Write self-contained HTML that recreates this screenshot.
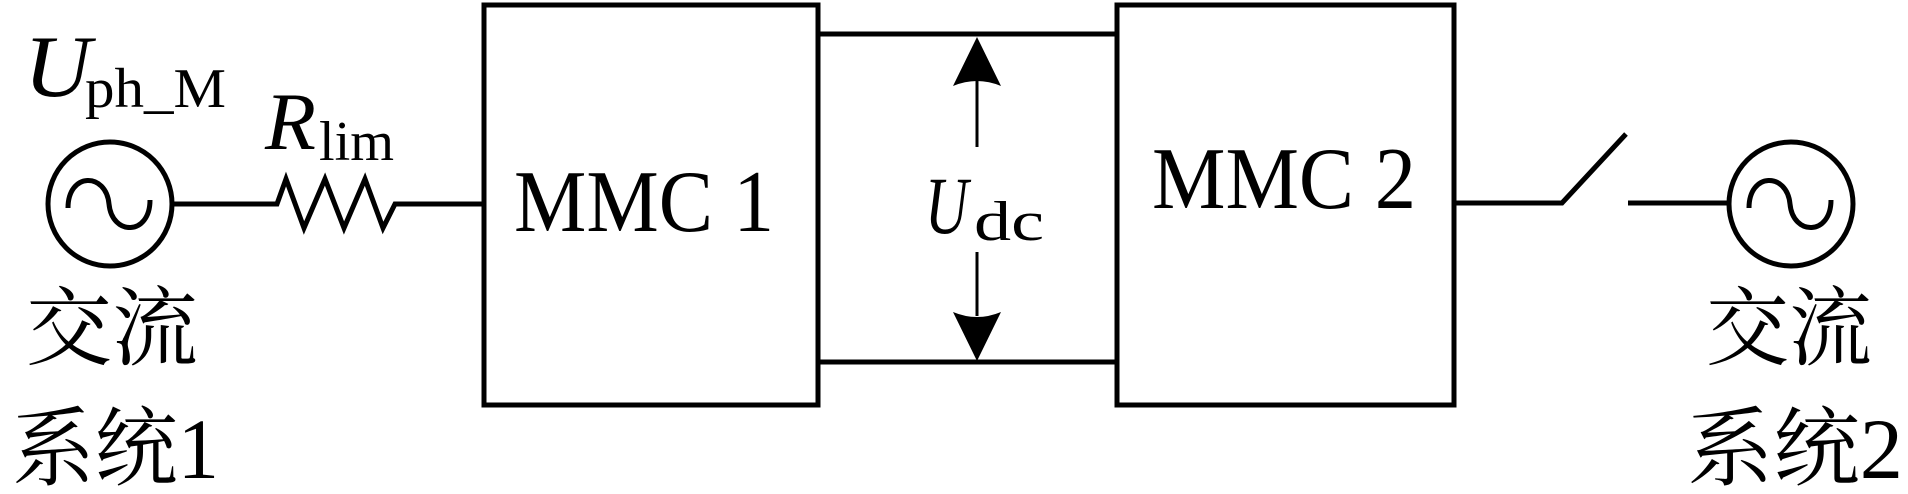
<!DOCTYPE html>
<html><head><meta charset="utf-8"><style>
html,body{margin:0;padding:0;background:#fff;}
svg{display:block;}
text{fill:#000;}
.l{font-family:"Liberation Serif",serif;}
.c{font-family:"Liberation Serif","Noto Serif CJK SC","Noto Sans CJK SC",serif;}
</style></head><body>
<svg width="1908" height="494" viewBox="0 0 1908 494" xmlns="http://www.w3.org/2000/svg">
<g fill="none" stroke="#000" stroke-width="5">
<rect x="484" y="5" width="334" height="400"/>
<rect x="1117" y="5" width="337" height="400"/>
<line x1="818" y1="34" x2="1117" y2="34"/>
<line x1="818" y1="362" x2="1117" y2="362"/>
<circle cx="110" cy="204" r="62"/>
<circle cx="1791" cy="204" r="62"/>
<path d="M68,208 C68,172 106,172 109,204 C112,236 150,236 150,200"/>
<path d="M1749,208 C1749,172 1787,172 1790,204 C1793,236 1831,236 1831,200"/>
<polyline points="172,204 277,204 286,179 304,228 325,179 344,228 365,179 383,228 395,204 484,204"/>
<polyline points="1454,203 1562,203 1626,134"/>
<line x1="1628" y1="203" x2="1729" y2="203"/>
<line x1="977" y1="80" x2="977" y2="147" stroke-width="3"/>
<line x1="977" y1="252" x2="977" y2="316" stroke-width="3"/>
</g>
<path d="M977,37 L953,86 Q977,76 1001,86 Z" fill="#000"/>
<path d="M977,361 L953,312 Q977,322 1001,312 Z" fill="#000"/>
<text class="l" x="24" y="96" font-size="88" font-style="italic" textLength="67" lengthAdjust="spacingAndGlyphs">U</text>
<text class="l" x="85" y="107" font-size="56" textLength="141" lengthAdjust="spacingAndGlyphs">ph_M</text>
<text class="l" x="265" y="149" font-size="82" font-style="italic" textLength="51" lengthAdjust="spacingAndGlyphs">R</text>
<text class="l" x="319" y="160" font-size="56" textLength="75" lengthAdjust="spacingAndGlyphs">lim</text>
<text class="l" x="514" y="231" font-size="88" textLength="260" lengthAdjust="spacingAndGlyphs">MMC 1</text>
<text class="l" x="1152" y="208" font-size="88" textLength="264" lengthAdjust="spacingAndGlyphs">MMC 2</text>
<text class="l" x="925" y="233" font-size="82" font-style="italic" textLength="43" lengthAdjust="spacingAndGlyphs">U</text>
<text class="l" x="974" y="240" font-size="56" textLength="70" lengthAdjust="spacingAndGlyphs">dc</text>
<text class="c" x="26" y="358" font-size="86" textLength="172" lengthAdjust="spacingAndGlyphs">交流</text>
<text class="c" x="12" y="478" font-size="86" textLength="207" lengthAdjust="spacingAndGlyphs">系统1</text>
<text class="c" x="1706" y="358" font-size="86" textLength="166" lengthAdjust="spacingAndGlyphs">交流</text>
<text class="c" x="1687" y="478" font-size="86" textLength="216" lengthAdjust="spacingAndGlyphs">系统2</text>
</svg>
</body></html>
